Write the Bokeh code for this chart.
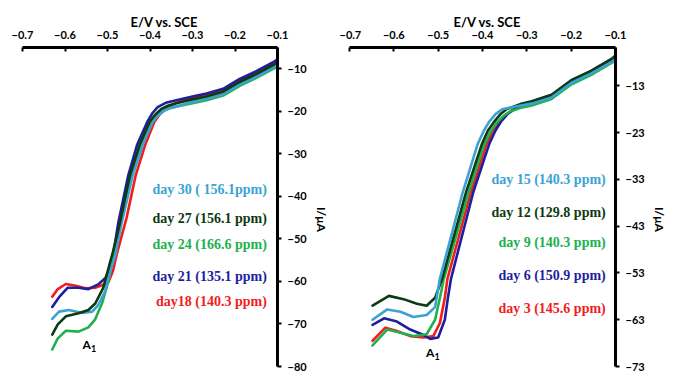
import math
from bokeh.plotting import figure
from bokeh.models import Range1d, FixedTicker, Label
from bokeh.layouts import row
from bokeh.embed import file_html
from bokeh.resources import INLINE

# ---------------- data ----------------
X_TICKS = [-0.7, -0.6, -0.5, -0.4, -0.3, -0.2, -0.1]
LEFT_Y_TICKS = [-80, -70, -60, -50, -40, -30, -20, -10]
RIGHT_Y_TICKS = [-73, -63, -53, -43, -33, -23, -13]
X_TITLE = "E/V vs. SCE"
Y_TITLE = "I/\u03bcA"

# left panel (days 18-30)
day30_x = [-0.630, -0.614, -0.591, -0.559, -0.536, -0.522, -0.505, -0.494, -0.482, -0.467, -0.441, -0.417, -0.394, -0.380, -0.366, -0.350, -0.335, -0.300, -0.267, -0.228, -0.189, -0.151, -0.108, -0.100]
day30_y = [-68.8, -67.1, -66.7, -67.4, -67.1, -65.6, -62.2, -57.7, -54.0, -46.4, -35.2, -27.8, -22.5, -20.9, -19.8, -19.2, -18.8, -17.8, -17.1, -16.0, -13.7, -11.9, -9.6, -9.1]
day27_x = [-0.630, -0.617, -0.598, -0.568, -0.545, -0.529, -0.510, -0.494, -0.487, -0.471, -0.460, -0.4475, -0.424, -0.401, -0.388, -0.374, -0.358, -0.343, -0.300, -0.267, -0.228, -0.189, -0.151, -0.108, -0.100]
day27_y = [-72.5, -70.1, -68.2, -67.5, -66.7, -65.2, -61.5, -55.5, -53.0, -46.4, -41.0, -35.2, -27.8, -22.5, -20.8, -19.5, -18.7, -18.2, -17.2, -16.5, -15.4, -13.1, -11.3, -9.0, -8.5]
day24_x = [-0.630, -0.617, -0.598, -0.568, -0.545, -0.529, -0.513, -0.498, -0.487, -0.469, -0.445, -0.421, -0.398, -0.384, -0.370, -0.355, -0.340, -0.300, -0.267, -0.228, -0.189, -0.151, -0.108, -0.100]
day24_y = [-76.0, -73.4, -71.6, -71.8, -70.8, -68.9, -65.2, -60.0, -54.7, -46.4, -35.2, -27.8, -22.5, -20.9, -19.9, -19.3, -18.9, -18.1, -17.4, -16.3, -14.0, -12.2, -9.9, -9.4]
day21_x = [-0.630, -0.614, -0.594, -0.568, -0.545, -0.522, -0.505, -0.494, -0.487, -0.475, -0.4515, -0.430, -0.4065, -0.394, -0.382, -0.363, -0.343, -0.300, -0.267, -0.228, -0.189, -0.151, -0.108, -0.100]
day21_y = [-66.0, -63.7, -61.5, -61.5, -61.8, -60.7, -59.2, -57.0, -54.0, -46.4, -35.2, -27.8, -22.5, -20.4, -19.0, -18.0, -17.5, -16.5, -15.8, -14.7, -12.4, -10.6, -8.3, -7.8]
day18_x = [-0.630, -0.617, -0.598, -0.575, -0.552, -0.529, -0.513, -0.498, -0.487, -0.478, -0.455, -0.434, -0.411, -0.390, -0.376, -0.3625, -0.350, -0.335, -0.300, -0.267, -0.228, -0.189, -0.151, -0.108, -0.100]
day18_y = [-63.6, -61.8, -60.6, -61.0, -61.6, -61.5, -60.9, -60.2, -57.5, -53.5, -45.0, -35.2, -27.8, -22.5, -20.6, -19.5, -18.6, -17.9, -16.9, -16.2, -15.1, -12.9, -11.0, -8.8, -8.3]

# right panel (days 3-15)
day15_x = [-0.648, -0.615, -0.585, -0.556, -0.526, -0.507, -0.496, -0.4444, -0.4111, -0.397, -0.3851, -0.370, -0.3556, -0.325, -0.289, -0.2444, -0.200, -0.1556, -0.107, -0.100]
day15_y = [-63.0, -60.8, -61.3, -62.4, -62.0, -60.3, -54.2, -35.7, -25.5, -22.6, -20.7, -19.0, -18.0, -17.4, -16.8, -15.5, -12.4, -10.4, -7.8, -7.2]
day12_x = [-0.648, -0.611, -0.578, -0.548, -0.526, -0.507, -0.496, -0.491, -0.437, -0.4016, -0.388, -0.374, -0.358, -0.344, -0.315, -0.289, -0.2444, -0.200, -0.1556, -0.107, -0.100]
day12_y = [-60.0, -57.9, -58.6, -59.6, -60.0, -58.3, -55.5, -54.2, -35.7, -25.5, -22.6, -20.7, -18.9, -17.9, -16.9, -16.3, -14.9, -11.8, -9.8, -7.1, -6.5]
day9_x = [-0.648, -0.615, -0.585, -0.556, -0.526, -0.507, -0.496, -0.487, -0.4311, -0.3962, -0.382, -0.368, -0.352, -0.338, -0.310, -0.289, -0.2444, -0.200, -0.1556, -0.107, -0.100]
day9_y = [-68.5, -65.1, -65.8, -66.5, -66.1, -63.0, -58.3, -54.2, -35.7, -25.5, -22.8, -20.9, -19.4, -18.5, -17.6, -17.2, -15.8, -12.7, -10.7, -8.0, -7.4]
day6_x = [-0.648, -0.622, -0.593, -0.563, -0.537, -0.518, -0.500, -0.485, -0.478, -0.471, -0.4207, -0.3851, -0.371, -0.358, -0.343, -0.328, -0.305, -0.289, -0.2444, -0.200, -0.1556, -0.107, -0.100]
day6_y = [-64.1, -62.7, -63.4, -65.1, -66.1, -67.1, -66.8, -63.0, -58.3, -54.2, -35.7, -25.5, -22.6, -20.6, -19.0, -18.0, -16.9, -16.4, -15.0, -11.9, -9.9, -7.2, -6.6]
day3_x = [-0.648, -0.619, -0.593, -0.563, -0.533, -0.511, -0.496, -0.485, -0.479, -0.4260, -0.3911, -0.377, -0.363, -0.348, -0.333, -0.308, -0.289, -0.2444, -0.200, -0.1556, -0.107, -0.100]
day3_y = [-67.5, -64.7, -65.4, -66.5, -66.8, -66.5, -63.7, -58.3, -54.2, -35.7, -25.5, -22.7, -20.8, -19.2, -18.2, -17.0, -16.6, -15.2, -12.1, -10.1, -7.4, -6.8]

left_labels = ["day 30 ( 156.1ppm)", "day 27 (156.1 ppm)", "day 24 (166.6 ppm)", "day 21 (135.1 ppm)", "day18 (140.3 ppm)"]
right_labels = ["day 15 (140.3 ppm)", "day 12 (129.8 ppm)", "day 9 (140.3 ppm)", "day 6 (150.9 ppm)", "day 3 (145.6 ppm)"]

# ---------------- styles / layout ----------------
CYAN = "#3AA3D4"
DARK = "#0D3A10"
GREEN = "#20B04E"
NAVY = "#1E1EA0"
RED = "#F21C1C"
LABEL_COLORS = [CYAN, DARK, GREEN, NAVY, RED]

FRAME_H = 319
TOP = 47
BOTTOM = 6


def make_panel(frame_w, bl, br, yr, yticks, curves, labels, label_x, label_y,
               title_offset, ylab_standoff, a1_x, a1_y):
    p = figure(frame_width=frame_w, frame_height=FRAME_H,
               output_backend="svg", toolbar_location=None,
               x_range=Range1d(-0.7, -0.1), y_range=Range1d(*yr),
               x_axis_location="above", y_axis_location="right",
               min_border_left=bl, min_border_right=br,
               min_border_top=TOP, min_border_bottom=BOTTOM)
    p.outline_line_color = None
    p.grid.visible = False
    p.background_fill_color = "white"
    p.border_fill_color = "white"

    # title above the top axis
    p.title.text = X_TITLE
    p.title.align = "left"
    p.title.offset = title_offset
    p.title.standoff = 0
    try:
        p.title.standoff = -4
    except Exception:
        pass
    p.title.text_font = "Lato"
    p.title.text_font_style = "bold"
    p.title.text_font_size = "13px"
    p.title.text_color = "black"

    for xs, ys, c in curves:
        p.line(xs, ys, line_color=c, line_width=2.6, line_join="round", line_cap="round")

    xa = p.xaxis[0]
    xa.ticker = FixedTicker(ticks=X_TICKS)
    xa.minor_tick_line_color = None
    xa.major_tick_in = 4
    xa.major_tick_out = 0
    xa.major_tick_line_width = 2
    xa.axis_line_width = 3
    xa.axis_line_color = "black"
    xa.major_label_standoff = 9
    xa.major_label_text_font = "Lato"
    xa.major_label_text_font_style = "bold"
    xa.major_label_text_font_size = "11px"
    xa.major_label_text_color = "black"

    ya = p.yaxis[0]
    ya.ticker = FixedTicker(ticks=yticks)
    ya.minor_tick_line_color = None
    ya.major_tick_in = 0
    ya.major_tick_out = 4
    ya.major_tick_line_width = 2
    ya.axis_line_width = 3
    ya.axis_line_color = "black"
    ya.major_label_standoff = 6
    ya.major_label_text_font = "Lato"
    ya.major_label_text_font_style = "bold"
    ya.major_label_text_font_size = "11px"
    ya.major_label_text_color = "black"
    ya.axis_label = Y_TITLE
    ya.axis_label_standoff = ylab_standoff
    ya.axis_label_text_font = "Lato"
    ya.axis_label_text_font_style = "bold"
    ya.axis_label_text_font_size = "12px"
    ya.axis_label_text_color = "black"
    try:
        ya.axis_label_orientation = -math.pi / 2
    except Exception:
        pass

    for t, c, yy in zip(labels, LABEL_COLORS, label_y):
        p.add_layout(Label(x=label_x, y=yy, text=t, text_align="right", text_baseline="middle",
                           text_font="Liberation Serif", text_font_style="bold",
                           text_font_size="14px", text_color=c))

    p.add_layout(Label(x=a1_x, y=a1_y, text="A", text_align="center", text_baseline="middle",
                       text_font="Lato", text_font_style="bold", text_font_size="12px",
                       text_color="black"))
    p.add_layout(Label(x=a1_x, y=a1_y, x_offset=7, y_offset=-4, text="1", text_align="center",
                       text_baseline="middle", text_font="Lato", text_font_style="bold",
                       text_font_size="9px", text_color="black"))
    return p


left_curves = [(day18_x, day18_y, RED), (day21_x, day21_y, NAVY), (day24_x, day24_y, GREEN),
               (day30_x, day30_y, CYAN), (day27_x, day27_y, DARK)]
right_curves = [(day3_x, day3_y, RED), (day6_x, day6_y, NAVY), (day9_x, day9_y, GREEN),
                (day12_x, day12_y, DARK), (day15_x, day15_y, CYAN)]

p1 = make_panel(255, 22, 55, (-80, -5), LEFT_Y_TICKS, left_curves, left_labels,
                -0.125, [-38.5, -45.3, -51.3, -58.8, -64.8],
                108, 12, -0.549, -74.9)
p2 = make_panel(266, 10, 52, (-73, -4.8), RIGHT_Y_TICKS, right_curves, right_labels,
                -0.122, [-33.1, -40.0, -46.4, -53.5, -60.7],
                104, 12, -0.518, -70.1)

layout = row(p1, p2)
open("out.html", "w").write(file_html(layout, INLINE))
